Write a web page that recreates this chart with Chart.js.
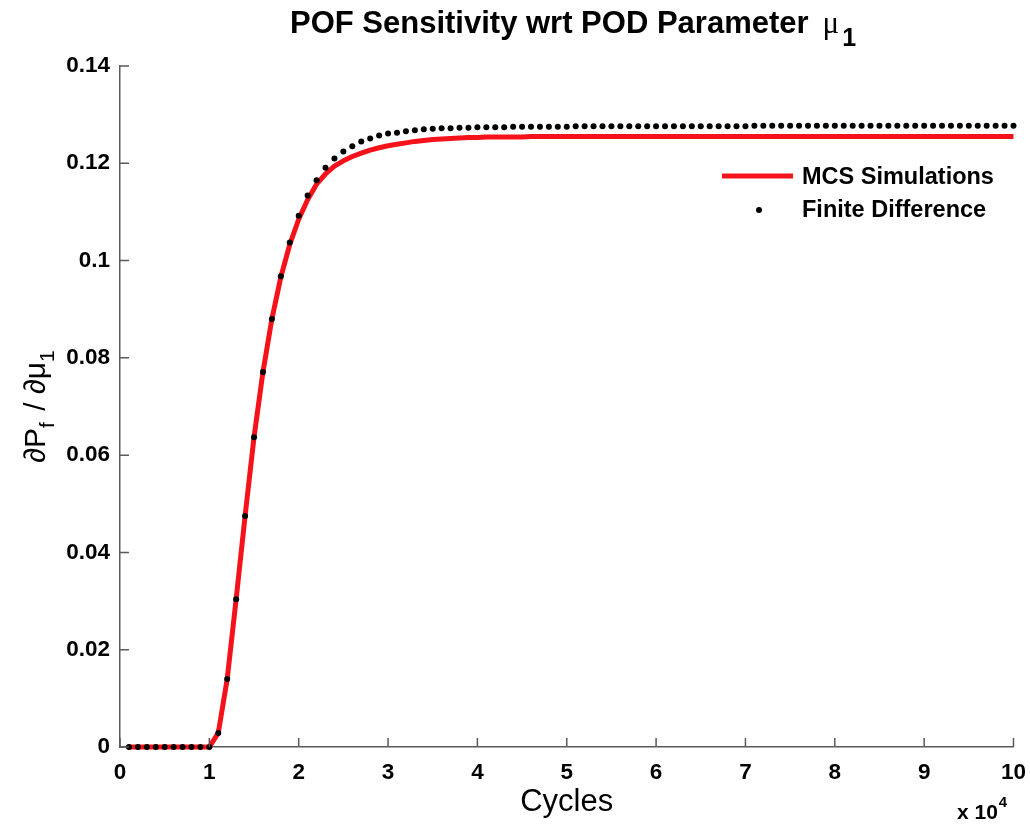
<!DOCTYPE html>
<html lang="en">
<head>
    <meta charset="UTF-8">
    <title>POF Sensitivity wrt POD Parameter</title>
    <script src="https://cdn.jsdelivr.net/npm/chart.js@4.4.3/dist/chart.umd.min.js"></script>
    <style>
        html, body {
            margin: 0;
            padding: 0;
            background: #fff;
        }
        #wrap {
            width: 1030px;
            height: 826px;
        }
    </style>
</head>
<body>
    <div id="wrap"><canvas id="podChart" width="1030" height="826"></canvas></div>

    <script>
        // x positions in cycles (finite difference evaluated every 1000 cycles)
        const cycles = [
            1000, 2000, 3000, 4000, 5000, 6000, 7000, 8000, 9000, 10000,
            11000, 12000, 13000, 14000, 15000, 16000, 17000, 18000, 19000, 20000,
            21000, 22000, 23000, 24000, 25000, 26000, 27000, 28000, 29000, 30000,
            31000, 32000, 33000, 34000, 35000, 36000, 37000, 38000, 39000, 40000,
            41000, 42000, 43000, 44000, 45000, 46000, 47000, 48000, 49000, 50000,
            51000, 52000, 53000, 54000, 55000, 56000, 57000, 58000, 59000, 60000,
            61000, 62000, 63000, 64000, 65000, 66000, 67000, 68000, 69000, 70000,
            71000, 72000, 73000, 74000, 75000, 76000, 77000, 78000, 79000, 80000,
            81000, 82000, 83000, 84000, 85000, 86000, 87000, 88000, 89000, 90000,
            91000, 92000, 93000, 94000, 95000, 96000, 97000, 98000, 99000, 100000
        ];

        // MCS simulation (red line)
        const mcsValues = [
            0, 0, 0, 0, 0, 0, 0, 0, 0, 0,
            0.0029, 0.0140, 0.0304, 0.0475, 0.0637, 0.0771, 0.0880, 0.0966, 0.1033, 0.1085,
            0.1125, 0.1157, 0.1178, 0.1194, 0.1205, 0.1214, 0.1221, 0.1227, 0.1232, 0.1236,
            0.1239, 0.1242, 0.1245, 0.1247, 0.1249, 0.1250, 0.1251, 0.1252, 0.1253, 0.1253,
            0.1254, 0.1254, 0.1254, 0.1254, 0.1254, 0.1255, 0.1255, 0.1255, 0.1255, 0.1255,
            0.1255, 0.1255, 0.1255, 0.1255, 0.1255, 0.1255, 0.1255, 0.1255, 0.1255, 0.1255,
            0.1255, 0.1255, 0.1255, 0.1255, 0.1255, 0.1255, 0.1255, 0.1255, 0.1255, 0.1255,
            0.1255, 0.1255, 0.1255, 0.1255, 0.1255, 0.1255, 0.1255, 0.1255, 0.1255, 0.1255,
            0.1255, 0.1255, 0.1255, 0.1255, 0.1255, 0.1255, 0.1255, 0.1255, 0.1255, 0.1255,
            0.1255, 0.1255, 0.1255, 0.1255, 0.1255, 0.1255, 0.1255, 0.1255, 0.1255, 0.1255
        ];

        // finite difference estimate (black dots)
        const fdValues = [
            0, 0, 0, 0, 0, 0, 0, 0, 0, 0,
            0.0029, 0.0140, 0.0304, 0.0475, 0.0637, 0.0771, 0.0880, 0.0968, 0.1037, 0.1092,
            0.1134, 0.1165, 0.1191, 0.1210, 0.1224, 0.1235, 0.1245, 0.1251, 0.1257, 0.1261,
            0.1263, 0.1266, 0.1268, 0.1270, 0.1271, 0.1272, 0.1272, 0.1273, 0.1273, 0.1274,
            0.1274, 0.1274, 0.1274, 0.1275, 0.1275, 0.1275, 0.1275, 0.1275, 0.1275, 0.1275,
            0.1276, 0.1276, 0.1276, 0.1276, 0.1276, 0.1276, 0.1276, 0.1276, 0.1276, 0.1276,
            0.1276, 0.1276, 0.1276, 0.1276, 0.1276, 0.1276, 0.1276, 0.1276, 0.1276, 0.1276,
            0.1277, 0.1277, 0.1277, 0.1277, 0.1277, 0.1277, 0.1277, 0.1277, 0.1277, 0.1277,
            0.1277, 0.1277, 0.1277, 0.1277, 0.1277, 0.1277, 0.1277, 0.1277, 0.1277, 0.1277,
            0.1277, 0.1277, 0.1277, 0.1277, 0.1277, 0.1277, 0.1277, 0.1277, 0.1277, 0.1277
        ];

        const xTicks = [0, 10000, 20000, 30000, 40000, 50000, 60000, 70000, 80000, 90000, 100000];
        const yTicks = [0, 0.02, 0.04, 0.06, 0.08, 0.1, 0.12, 0.14];
        const seriesNames = ['MCS Simulations', 'Finite Difference'];

        const SANS = '"Liberation Sans", Arial, Helvetica, sans-serif';
        const SERIF = '"Liberation Serif", "Times New Roman", serif';
        const AXIS_COLOR = '#5a5a5a';
        const RED = '#f5121b';

        // draws text pieces left to right (for sub/superscripts)
        function drawRich(ctx, parts, x, y) {
            let cx = x;
            parts.forEach(p => {
                ctx.font = p.font;
                ctx.fillText(p.text, cx, y + (p.dy || 0));
                cx += ctx.measureText(p.text).width + (p.gap || 0);
            });
        }
        function richWidth(ctx, parts) {
            let w = 0;
            parts.forEach(p => {
                ctx.font = p.font;
                w += ctx.measureText(p.text).width + (p.gap || 0);
            });
            return w;
        }

        const decorations = {
            id: 'decorations',
            afterDraw(chart) {
                const ctx = chart.ctx;
                const area = chart.chartArea;
                const xs = chart.scales.x;
                const ys = chart.scales.y;
                ctx.save();
                ctx.fillStyle = '#000';
                ctx.textBaseline = 'alphabetic';
                ctx.textAlign = 'left';

                // inward tick marks
                ctx.strokeStyle = AXIS_COLOR;
                ctx.lineWidth = 1.5;
                ctx.beginPath();
                xTicks.forEach(v => {
                    const px = xs.getPixelForValue(v);
                    ctx.moveTo(px, area.bottom);
                    ctx.lineTo(px, area.bottom - 9);
                });
                yTicks.forEach(v => {
                    const py = ys.getPixelForValue(v);
                    ctx.moveTo(area.left, py);
                    ctx.lineTo(area.left + 9, py);
                });
                ctx.stroke();

                // title
                drawRich(ctx, [
                    { text: 'POF Sensitivity wrt POD Parameter', font: 'bold 31px ' + SANS, gap: 14 },
                    { text: 'μ', font: '31px ' + SERIF, gap: 3 },
                    { text: '1', font: 'bold 25px ' + SANS, dy: 13 }
                ], 290, 33);

                // y axis label (rotated)
                const ylab = [
                    { text: '∂P', font: '30px ' + SANS },
                    { text: 'f', font: '21px ' + SANS, dy: 9, gap: 3 },
                    { text: ' / ∂μ', font: '30px ' + SANS },
                    { text: '1', font: '21px ' + SANS, dy: 9 }
                ];
                const yw = richWidth(ctx, ylab);
                ctx.save();
                ctx.translate(45, (area.top + area.bottom) / 2);
                ctx.rotate(-Math.PI / 2);
                drawRich(ctx, ylab, -yw / 2, 0);
                ctx.restore();

                // x axis label
                ctx.font = '31px ' + SANS;
                ctx.textAlign = 'center';
                ctx.fillText('Cycles', (area.left + area.right) / 2, 811);

                // exponent
                ctx.textAlign = 'left';
                drawRich(ctx, [
                    { text: 'x 10', font: 'bold 21px ' + SANS, gap: 1 },
                    { text: '4', font: 'bold 15px ' + SANS, dy: -12 }
                ], 957, 819);

                // legend
                ctx.strokeStyle = RED;
                ctx.lineWidth = 5;
                ctx.beginPath();
                ctx.moveTo(722, 176);
                ctx.lineTo(793, 176);
                ctx.stroke();
                ctx.fillStyle = '#000';
                ctx.beginPath();
                ctx.arc(759, 210, 3, 0, Math.PI * 2);
                ctx.fill();
                ctx.font = 'bold 23.5px ' + SANS;
                ctx.fillText(seriesNames[0], 802, 184);
                ctx.fillText(seriesNames[1], 802, 217);

                ctx.restore();
            }
        };

        const ctx = document.getElementById('podChart').getContext('2d');
        new Chart(ctx, {
            type: 'line',
            data: {
                datasets: [
                    {
                        label: seriesNames[1],
                        data: cycles.map((c, i) => ({ x: c, y: fdValues[i] })),
                        showLine: false,
                        pointRadius: 3,
                        pointBackgroundColor: '#000',
                        pointBorderWidth: 0,
                        clip: false,
                        order: 0
                    },
                    {
                        label: seriesNames[0],
                        data: cycles.map((c, i) => ({ x: c, y: mcsValues[i] })),
                        borderColor: RED,
                        borderWidth: 5,
                        pointRadius: 0,
                        tension: 0,
                        borderJoinStyle: 'round',
                        clip: false,
                        order: 1
                    }
                ]
            },
            options: {
                responsive: false,
                animation: false,
                events: [],
                layout: { padding: { top: 66, right: 14, left: 0, bottom: 0 } },
                plugins: {
                    legend: { display: false },
                    title: { display: false },
                    tooltip: { enabled: false }
                },
                scales: {
                    x: {
                        type: 'linear',
                        min: 0,
                        max: 100000,
                        afterFit(s) { s.height = 79; },
                        afterBuildTicks(s) { s.ticks = xTicks.map(v => ({ value: v })); },
                        grid: { display: false },
                        border: { display: true, color: AXIS_COLOR, width: 1.5 },
                        ticks: {
                            padding: 4,
                            color: '#000',
                            maxRotation: 0,
                            autoSkip: false,
                            font: { family: SANS, size: 22.5, weight: 'bold' },
                            callback: v => String(v / 10000)
                        }
                    },
                    y: {
                        type: 'linear',
                        min: 0,
                        max: 0.14,
                        afterFit(s) { s.width = 120; },
                        afterBuildTicks(s) { s.ticks = yTicks.map(v => ({ value: v })); },
                        grid: { display: false },
                        border: { display: true, color: AXIS_COLOR, width: 1.5 },
                        ticks: {
                            padding: 2,
                            color: '#000',
                            autoSkip: false,
                            font: { family: SANS, size: 22.5, weight: 'bold' },
                            callback: v => String(+v.toFixed(2))
                        }
                    }
                }
            },
            plugins: [decorations]
        });
    </script>
</body>
</html>
